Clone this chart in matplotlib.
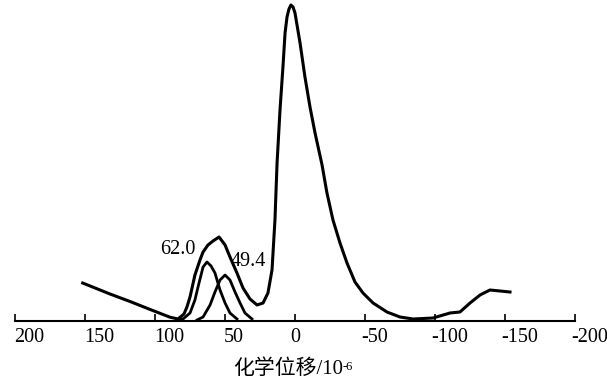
import matplotlib.pyplot as plt
from matplotlib.transforms import ScaledTranslation

plt.rcParams['font.family'] = ['Liberation Serif', 'Noto Sans CJK SC']

# chemical shift (10^-6) and intensity
shift = [151.5, 132.0, 117.7, 103.5, 89.2, 83.5, 79.2, 77.1, 74.9, 71.4, 67.8, 65.6, 62.1,
         58.5, 54.2, 49.9, 46.4, 41.4, 37.1, 32.1, 27.1, 22.8, 19.3, 16.4, 14.3,
         12.8, 10.7, 8.6, 7.1, 5.7, 4.3, 2.9, 1.4, 0.0, -3.6, -7.1, -10.7, -14.3, -19.3,
         -22.8, -27.1, -32.1, -37.1, -42.8, -48.5, -55.7, -65.6, -74.9, -84.2,
         -98.5, -110.6, -117.7, -124.9, -132.0, -139.1, -146.3, -153.4]
signal = [38, 27, 19.5, 11.6, 3.8, 2, 7, 14, 24, 46, 61, 69, 76,
          80, 84, 76, 64, 48, 33, 22, 16, 18, 28, 51, 101,
          158, 211, 254, 288, 304, 312, 316, 314, 308, 278, 244, 214, 188, 156,
          128, 101, 78, 58, 39, 28, 18, 9, 4, 2,
          3, 8, 9, 18, 26, 31, 30, 29]

# fitted component at 62.0
peak1_shift = [82.1, 79.9, 74.9, 71.4, 69.2, 65.6, 62.8, 59.9, 57.1, 53.5, 49.9, 46.4, 41.4]
peak1 = [2, 2, 8, 21, 34, 54, 59, 55, 48, 31, 18, 8, 2]

# fitted component at 49.4
peak2_shift = [69.9, 65.6, 60.6, 57.1, 53.5, 49.9, 46.4, 42.8, 39.2, 35.7, 30.7]
peak2 = [1, 4, 16, 29, 41, 46, 41, 29, 18, 8, 2]

ticks = [200, 150, 100, 50, 0, -50, -100, -150, -200]
tick_labels = ['200', '150', '100', '50', '0', '-50', '-100', '-150', '-200']

fig = plt.figure(figsize=(6.07, 3.86), dpi=100)
ax = fig.add_axes([0.0242, 0.1684, 0.9236, 0.8316])

ax.plot(shift, signal, color='black', lw=2.2, clip_on=False)
ax.plot(peak1_shift, peak1, color='black', lw=2.0, clip_on=False)
ax.plot(peak2_shift, peak2, color='black', lw=2.0, clip_on=False)

ax.text(83.5, 71, '62.0', ha='center', va='center', fontsize=14.5)
ax.text(33.5, 59, '49.4', ha='center', va='center', fontsize=14.5)

ax.set_xlim(200, -200)
ax.set_ylim(0, 321)
for s in ['top', 'left', 'right']:
    ax.spines[s].set_visible(False)
ax.spines['bottom'].set_linewidth(1.5)
ax.set_yticks([])
ax.set_xticks(ticks)
ax.set_xticklabels(tick_labels, fontsize=14.5)
ax.tick_params(axis='x', direction='in', length=5, width=1.2, pad=5)
for t in ax.get_xticklabels():
    if t.get_text() == '0':
        t.set_ha('center')
    else:
        t.set_ha('left')
        dx = -4 if t.get_text().startswith('-') else -1
        t.set_transform(t.get_transform() + ScaledTranslation(dx / 100, 0, fig.dpi_scale_trans))

lbl = fig.text(288 / 607, 0.044, '化学位移/10', ha='center', va='center', fontsize=15)
ax.annotate('-6', xy=(1, 1), xycoords=lbl, xytext=(0, -1), textcoords='offset points',
            ha='left', va='top', fontsize=9)

fig.savefig('out.png', dpi=100)
